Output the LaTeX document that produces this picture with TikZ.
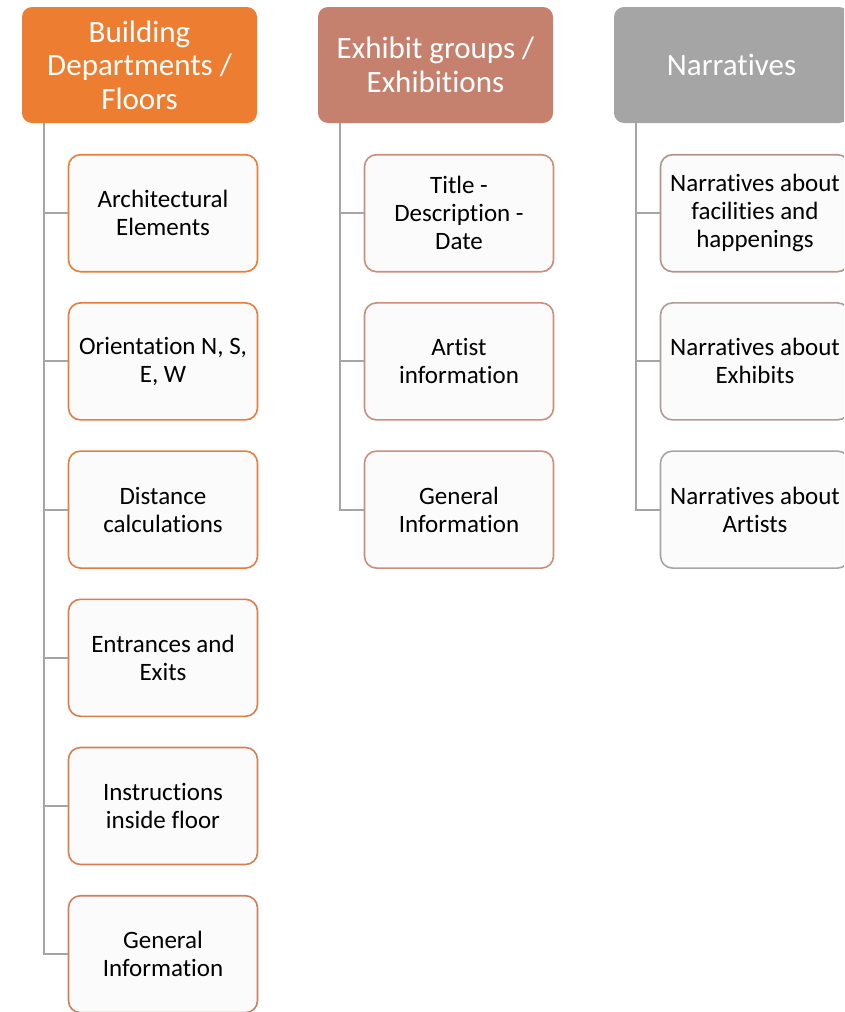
\documentclass[tikz,border=0pt]{standalone}
\usepackage{fontspec}
\setmainfont{Carlito}[Ligatures=NoCommon]
\definecolor{orng}{HTML}{ED7D31}
\definecolor{rose}{HTML}{C5806E}
\definecolor{slate}{HTML}{A5A5A5}
\definecolor{kidfill}{HTML}{FBFBFB}
\definecolor{linegrey}{HTML}{A5A5A5}
\colorlet{ka1}{orng!95!rose}
\colorlet{ka2}{orng!85!rose}
\colorlet{ka3}{orng!70!rose}
\colorlet{ka4}{orng!55!rose}
\colorlet{ka5}{orng!40!rose}
\colorlet{ka6}{orng!25!rose}
\colorlet{kb}{rose!90!white}
\colorlet{kc1}{rose!45!slate}
\colorlet{kc2}{rose!25!slate}
\colorlet{kc3}{slate}
\begin{document}
\begin{tikzpicture}[x=1pt,y=1pt,node distance=148.2pt,
  every node/.style={inner sep=2pt,align=center}]
\tikzstyle{head}=[rounded corners=10pt,minimum width=235pt,minimum height=116pt,text=white,font=\fontsize{31}{33.5}\selectfont]
\tikzstyle{kid}=[draw,line width=1.6pt,fill=kidfill,rounded corners=12pt,minimum width=189pt,minimum height=117pt,font=\fontsize{25}{28}\selectfont]
\tikzstyle{link}=[draw,linegrey,line width=2pt]
\clip (0,0) rectangle (844,-1012);

% headers
\node[head,fill=orng](h1) at (139.5,-65){Building\\Departments /\\Floors};
\node[head,fill=rose,node distance=296pt,right of=h1](h2){Exhibit groups /\\Exhibitions};
\node[head,fill=slate,node distance=296pt,right of=h2](h3){Narratives};

% first column
\node[kid,draw=ka1,below of=h1,xshift=23.5pt](a1){Architectural\\Elements};
\node[kid,draw=ka2,below of=a1](a2){Orientation N, S,\\E, W};
\node[kid,draw=ka3,below of=a2](a3){Distance\\calculations};
\node[kid,draw=ka4,below of=a3](a4){Entrances and\\Exits};
\node[kid,draw=ka5,below of=a4](a5){Instructions\\inside floor};
\node[kid,draw=ka6,below of=a5](a6){General\\Information};

% second column
\node[kid,draw=kb,below of=h2,xshift=23.5pt](b1){Title -\\Description -\\Date};
\node[kid,draw=kb,below of=b1](b2){Artist\\information};
\node[kid,draw=kb,below of=b2](b3){General\\Information};

% third column
\node[kid,draw=kc1,below of=h3,xshift=23.5pt](c1){Narratives about\\facilities and\\happenings};
\node[kid,draw=kc2,below of=c1](c2){Narratives about\\Exhibits};
\node[kid,draw=kc3,below of=c2](c3){Narratives about\\Artists};

\coordinate(r1) at ([xshift=22pt]h1.south west);
\coordinate(r2) at ([xshift=22pt]h2.south west);
\coordinate(r3) at ([xshift=22pt]h3.south west);

\foreach \k in {1,...,6}{\path[link](r1)|-(a\k.west);}
\foreach \k in {1,2,3}{\path[link](r2)|-(b\k.west);}
\foreach \k in {1,2,3}{\path[link](r3)|-(c\k.west);}
\end{tikzpicture}
\end{document}
